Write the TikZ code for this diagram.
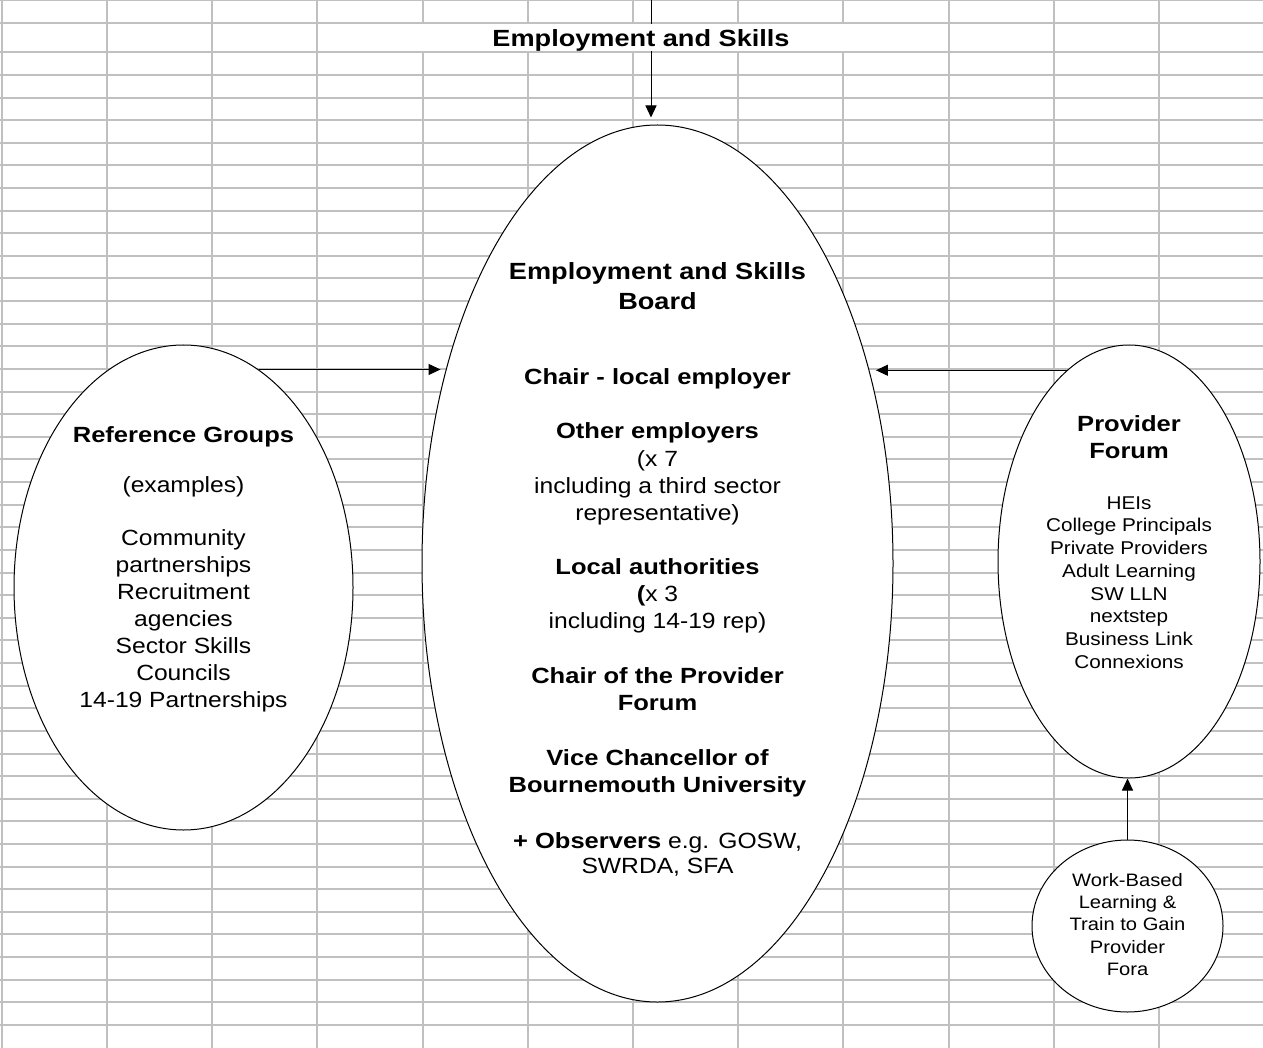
\documentclass[tikz,border=0pt]{standalone}
\usepackage{fontspec}
\setmainfont{Liberation Sans}[FakeStretch=1.12,BoldFeatures={FakeStretch=1.16}]
\usepackage{tikz}
\usetikzlibrary{shapes.geometric,arrows.meta}
\definecolor{cellgray}{RGB}{192,192,192}
\newcommand{\fsz}[2]{\fontsize{#1}{#2}\selectfont}

\begin{document}
\begin{tikzpicture}[x=1pt,y=-1pt,
    oval/.style={ellipse,draw,fill=white,line width=1pt,inner sep=0pt},
    arr/.style={-{Triangle[length=12pt,width=11pt]},line width=1pt},
    cell/.style={draw=cellgray,line width=1.5pt}]
    \useasboundingbox (0,0) rectangle (1263,1048);
    % Spreadsheet grid behind the chart
    \foreach \gx in {2,107,212,317,423,528,633,738,843,949,1054,1159}
        \draw[cell] (\gx,0) -- (\gx,1048);
    \draw[cell] (0,0.5) -- (1263,0.5);
    \draw[cell] (0,23) -- (1263,23);
    \foreach \gy in {0,...,43}{
        \pgfmathsetmacro{\ry}{round(52.3+22.62*\gy)}
        \draw[cell] (0,\ry) -- (1263,\ry);
    }
    % The four ovals
    \node[oval,minimum width=339,minimum height=485] (refgroups) at (183.5,587.5) {}; % Left
    \node[oval,minimum width=471,minimum height=877] (board)     at (657.5,563.5) {}; % Middle
    \node[oval,minimum width=262,minimum height=433] (provforum) at (1129,561.5)  {}; % Right
    \node[oval,minimum width=191,minimum height=172] (wblfora)   at (1127.5,926)  {}; % Bottom right
    % Connectors
    \coordinate (feed) at (651,0); % Top edge
    \draw[arr,shorten >=7pt] (feed) -- (feed |- board.north);
    \draw[arr,shorten >=6pt] (refgroups.71) -- (refgroups.71 -| board.137);
    \draw[arr,shorten >=6pt] (provforum.108) -- (provforum.108 -| board.42);
    \draw[arr] (wblfora.north) -- (wblfora.north |- provforum.south);
    % Merged title cell
    \fill[white] (318.5,24) rectangle (947.5,51);
    \node[font=\fsz{23.4}{28}\bfseries] (title) at (641,40.5) {Employment and Skills};
    % Texts of the ovals
    \node[align=center,font=\fsz{22}{27}] (boardtxt) at ([yshift=-5.5pt]board.center) {
        {\fsz{23.4}{27}\bfseries Employment and Skills}\\[3pt]
        {\fsz{23.4}{27}\bfseries Board}\\[48pt]
        {\bfseries Chair - local employer}\\[27pt]
        {\bfseries Other employers}\\[1pt]
        (x 7\\
        including a third sector\\
        representative)\\[27pt]
        {\bfseries Local authorities}\\
        {\bfseries (}x 3\\
        including 14-19 rep)\\[28pt]
        {\bfseries Chair of the Provider}\\
        {\bfseries Forum}\\[28pt]
        {\bfseries Vice Chancellor of}\\
        {\bfseries Bournemouth University}\\[29pt]
        {\bfseries + Observers} e.g. GOSW,\\[-2pt]
        SWRDA, SFA};
    \node[align=center,font=\fsz{22}{27}] (refgroupstxt) at ([yshift=17.8pt]refgroups.center) {
        {\bfseries Reference Groups}\\[23pt]
        (examples)\\[26pt]
        Community\\
        partnerships\\
        Recruitment\\
        agencies\\
        Sector Skills\\
        Councils\\
        14-19 Partnerships};
    \node[align=center,font=\fsz{18.5}{22.7}] (provforumtxt) at ([yshift=19.7pt]provforum.center) {
        {\fsz{22}{27}\bfseries Provider}\\[4.3pt]
        {\fsz{22}{27}\bfseries Forum}\\[28.3pt]
        HEIs\\
        College Principals\\
        Private Providers\\
        Adult Learning\\
        SW LLN\\
        nextstep\\
        Business Link\\
        Connexions};
    \node[align=center,font=\fsz{18}{22.3}] (wblforatxt) at ([yshift=1.6pt]wblfora.center) {
        Work-Based\\
        Learning \&\\
        Train to Gain\\
        Provider\\
        Fora};
\end{tikzpicture}
\end{document}
